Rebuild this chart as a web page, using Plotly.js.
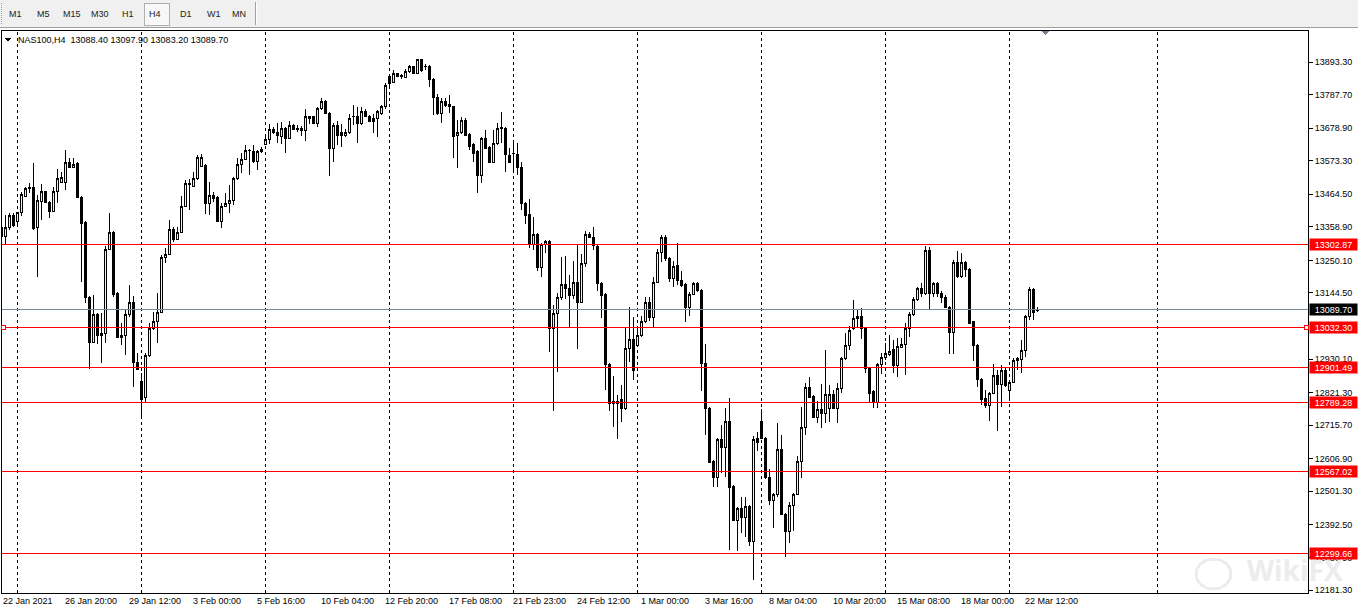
<!DOCTYPE html>
<html>
<head>
<meta charset="utf-8">
<script src="https://cdn.plot.ly/plotly-3.0.1.min.js"></script>
<style>
  html, body { margin:0; padding:0; background:#fff; }
  #wrap { position:relative; width:1358px; height:613px; overflow:hidden; }
  #chart { position:absolute; left:0; top:0; width:1358px; height:613px; }
  #tb { position:absolute; left:0; top:0; width:1358px; height:27px; background:#f0f0f0;
        border-bottom:1px solid #a0a0a0; font-family:'Liberation Sans', Arial, sans-serif;
        font-size:9px; color:#222; z-index:5; }
  #tb span.b { position:absolute; top:9px; line-height:11px; }
  #tb .sel { position:absolute; left:144px; top:3px; width:24px; height:21px;
             border:1px solid #b0b0b0; background:#f8f8f8; }
  #tb .sep { position:absolute; left:255px; top:2px; width:1px; height:23px;
             background:#a0a0a0; border-right:1px solid #fff; }
  #tb .grip { position:absolute; left:1px; top:3px; width:2px; height:21px;
              border-left:1px dotted #a0a0a0; }
  .shapelayer path, .boxlayer path { shape-rendering: crispEdges; }
</style>
</head>
<body>
<div id="wrap">
  <div id="chart"></div>
  <div id="tb">
    <div class="grip"></div>
    <div class="sel"></div>
    <span class="b" style="left:9px">M1</span>
    <span class="b" style="left:37px">M5</span>
    <span class="b" style="left:63px">M15</span>
    <span class="b" style="left:91px">M30</span>
    <span class="b" style="left:122px">H1</span>
    <span class="b" style="left:149px">H4</span>
    <span class="b" style="left:180px">D1</span>
    <span class="b" style="left:207px">W1</span>
    <span class="b" style="left:232px">MN</span>
    <div class="sep"></div>
  </div>
</div>
<script>
// ---------------- data (NAS100, H4) ----------------
const symbol = 'NAS100';
const timeframe = 'H4';

const open = [
13358.2,13329.1,13358.2,13397.2,13377.7,13406.9,13458.8,13484.7,13488.0,13358.2,
13442.6,13471.8,13439.3,13410.1,13471.8,13504.2,13504.2,13569.0,13552.8,13565.8,
13455.5,13374.5,13131.3,12985.4,13076.2,13014.6,13014.6,13286.9,13342.0,13144.3,
13008.1,13008.1,13073.0,13115.1,12920.5,12858.9,12807.1,12943.2,13027.6,13050.3,
13082.7,13261.0,13270.7,13351.8,13319.3,13342.0,13426.3,13494.5,13491.2,13517.1,
13556.0,13559.3,13436.1,13462.0,13455.5,13377.7,13426.3,13436.1,13445.8,13517.1,
13562.5,13578.7,13607.9,13601.5,13572.3,13601.5,13627.4,13643.6,13676.0,13666.3,
13653.3,13679.3,13646.8,13685.8,13676.0,13672.8,13672.8,13715.0,13715.0,13695.5,
13744.1,13766.8,13727.9,13614.4,13689.0,13663.1,13656.6,13663.1,13715.0,13715.0,
13695.5,13734.4,13718.2,13711.7,13711.7,13727.9,13747.4,13847.9,13828.4,13854.4,
13847.9,13844.6,13864.1,13877.1,13857.6,13899.8,13877.1,13880.3,13838.1,13779.8,
13727.9,13766.8,13757.1,13747.4,13656.6,13663.1,13705.2,13659.8,13627.4,13601.5,
13526.9,13646.8,13617.7,13569.0,13630.6,13679.3,13679.3,13591.7,13598.2,13595.0,
13552.8,13436.1,13400.4,13303.1,13335.5,13228.6,13303.1,13312.9,13027.6,13079.4,
13131.3,13173.5,13160.5,13134.6,13179.9,13115.1,13241.5,13335.5,13325.8,13296.6,
13176.7,13141.0,12914.1,12787.6,12794.1,12797.4,12771.4,12965.9,12995.1,12975.7,
13008.1,13053.5,13111.9,13066.5,13179.9,13277.2,13325.8,13257.7,13192.9,13235.0,
13186.4,13173.5,13098.9,13141.0,13176.7,13154.0,12917.3,12771.4,12599.6,12547.7,
12670.9,12641.8,12729.3,12518.5,12408.3,12447.2,12418.0,12453.6,12340.1,12674.1,
12729.3,12674.1,12544.5,12473.1,12489.4,12638.5,12427.7,12372.6,12456.9,12492.6,
12599.6,12709.8,12839.5,12810.3,12742.2,12768.2,12755.2,12771.4,12816.8,12771.4,
12836.2,12933.5,12975.7,13027.6,13063.2,13069.7,13030.8,12901.1,12826.5,12790.9,
12914.1,12936.8,12946.5,12962.7,12910.8,12969.2,12978.9,13030.8,13073.0,13124.8,
13160.5,13144.3,13283.7,13144.3,13176.7,13144.3,13131.3,13098.9,13017.8,13244.8,
13196.2,13244.8,13222.1,13050.3,12975.7,12865.4,12803.8,12781.1,12820.0,12878.4,
12849.2,12894.6,12829.8,12855.7,12927.0,12930.3,12959.5,13069.7,13157.2,13088.4
];
const high = [
13364.7,13397.2,13403.6,13403.6,13406.9,13471.8,13488.0,13500.9,13565.8,13462.0,
13497.7,13474.0,13442.0,13488.0,13546.3,13536.6,13607.9,13582.0,13582.0,13569.0,
13458.0,13377.7,13134.6,13137.8,13079.4,13079.4,13296.6,13403.6,13345.3,13147.5,
13047.0,13089.2,13170.2,13134.6,12949.7,12884.9,12949.7,13047.0,13082.7,13144.3,
13267.5,13290.2,13381.0,13358.2,13358.2,13458.8,13510.7,13513.9,13536.6,13591.7,
13595.0,13562.5,13504.2,13471.8,13458.8,13436.1,13468.5,13494.5,13520.4,13582.0,
13598.2,13624.2,13611.2,13624.2,13607.9,13617.7,13650.1,13692.3,13682.5,13695.5,
13698.8,13682.5,13702.0,13692.3,13689.0,13685.8,13740.9,13718.2,13718.0,13747.4,
13776.6,13770.0,13731.2,13695.5,13702.0,13692.3,13676.0,13724.7,13753.8,13747.4,
13747.4,13740.9,13721.5,13724.7,13737.6,13753.8,13825.2,13854.4,13867.3,13857.6,
13854.4,13870.6,13883.6,13880.3,13903.0,13903.0,13886.8,13883.6,13841.4,13789.5,
13776.6,13776.6,13786.3,13750.0,13705.2,13715.0,13711.7,13663.1,13630.6,13607.9,
13650.1,13672.8,13620.9,13672.8,13695.5,13731.2,13682.5,13614.4,13630.6,13630.6,
13569.0,13439.3,13449.0,13390.7,13338.8,13306.4,13316.1,13316.1,13105.4,13144.3,
13261.0,13264.2,13202.6,13248.0,13299.9,13270.7,13345.3,13342.0,13358.2,13299.9,
13179.9,13144.3,12917.3,12875.1,12813.5,12846.0,13034.0,13098.9,13066.5,13034.0,
13069.7,13131.3,13131.3,13196.2,13286.9,13332.3,13332.3,13261.0,13248.0,13306.4,
13215.6,13176.7,13147.5,13179.9,13179.9,13157.2,12978.9,12774.0,12602.8,12674.1,
12716.3,12771.4,12803.8,12521.7,12450.4,12482.9,12482.9,12456.9,12680.7,12693.6,
12768.2,12677.4,12573.6,12495.8,12722.8,12683.9,12431.0,12466.6,12495.8,12615.8,
12774.6,12852.4,12871.9,12813.5,12794.1,12849.2,12959.5,12846.0,12829.8,12852.4,
12936.8,13014.6,13037.3,13121.6,13089.2,13095.6,13034.0,12904.3,12829.8,12917.3,
12949.7,12982.2,13008.1,12991.9,12998.4,12998.4,13047.0,13082.7,13131.3,13163.7,
13176.7,13296.6,13293.4,13179.9,13179.9,13150.8,13137.8,13101.0,13251.3,13280.4,
13273.9,13248.0,13225.3,13053.5,12978.9,12868.7,12829.8,12823.3,12914.1,12894.6,
12910.8,12904.3,12858.9,12933.5,12936.8,12991.9,13073.0,13163.7,13160.5,13097.9
];
const low = [
13316.1,13303.1,13348.5,13358.2,13364.7,13393.9,13456.0,13468.5,13348.5,13196.2,
13381.0,13436.1,13387.4,13406.9,13436.1,13500.9,13478.2,13549.5,13549.5,13452.3,
13179.9,13111.9,12897.8,12982.2,12978.9,12917.3,12982.2,13283.7,13131.3,12998.4,
12975.7,12943.2,13066.5,12839.5,12894.6,12739.0,12790.9,12936.8,13024.3,12982.2,
13079.4,13241.5,13267.5,13309.6,13316.1,13338.8,13423.1,13413.4,13488.0,13510.7,
13552.8,13400.4,13397.2,13439.3,13374.5,13355.0,13423.1,13403.6,13429.6,13510.7,
13533.3,13575.5,13526.9,13565.8,13543.1,13598.2,13624.2,13627.4,13660.0,13630.6,
13627.4,13598.2,13643.6,13672.8,13666.3,13653.3,13637.1,13692.3,13692.3,13682.5,
13737.6,13724.7,13523.6,13569.0,13624.2,13617.7,13650.1,13660.0,13689.0,13630.6,
13689.0,13715.0,13698.8,13663.1,13650.1,13721.5,13740.9,13812.2,13825.2,13844.6,
13838.1,13841.4,13857.6,13854.4,13854.4,13860.8,13867.3,13812.2,13721.5,13721.5,
13695.5,13747.4,13727.9,13582.0,13549.5,13659.8,13653.3,13607.9,13569.0,13468.5,
13500.9,13611.2,13565.8,13565.8,13624.2,13630.6,13536.6,13565.8,13536.6,13526.9,
13413.4,13368.0,13290.2,13283.7,13215.6,13196.2,13273.9,12953.0,12761.7,12888.1,
13121.6,13124.8,13030.8,13124.8,12962.7,13111.9,13228.6,13322.6,13283.7,13150.8,
13063.2,12829.8,12761.7,12709.8,12670.9,12726.0,12764.9,12920.5,12862.2,12969.2,
13001.6,13047.0,13053.5,13034.0,13176.7,13244.8,13248.0,13179.9,13163.7,13170.2,
13163.7,13050.3,13069.7,13137.8,13147.5,12826.5,12683.9,12593.1,12515.3,12515.3,
12560.7,12547.7,12311.0,12405.0,12307.7,12366.1,12353.1,12323.9,12213.7,12632.0,
12670.9,12541.2,12456.9,12382.3,12482.9,12424.5,12288.3,12333.6,12372.6,12489.4,
12544.5,12683.9,12805.0,12739.0,12722.8,12706.6,12722.8,12726.0,12768.2,12722.8,
12820.0,12927.0,12959.5,13024.3,13034.0,12995.1,12884.9,12787.6,12771.4,12771.4,
12881.6,12927.0,12940.0,12884.9,12871.9,12966.0,12878.4,13001.6,13069.7,13118.3,
13131.3,13137.8,13089.2,13131.3,13131.3,13111.9,13095.6,12946.5,12946.5,13193.0,
13192.9,13196.2,13043.8,12923.8,12839.5,12781.1,12771.4,12729.3,12816.8,12696.9,
12774.6,12839.5,12800.6,12852.4,12894.6,12884.9,12936.8,13056.7,13056.7,13083.2
];
const close = [
13329.1,13358.2,13397.2,13364.7,13406.9,13465.3,13484.7,13486.0,13355.0,13445.8,
13471.8,13439.3,13410.1,13471.8,13517.1,13520.4,13569.0,13552.8,13562.5,13455.5,
13371.2,13131.3,12985.4,13076.2,13008.1,13008.1,13286.9,13342.0,13141.0,13001.6,
13001.6,13073.0,13115.1,12920.5,12897.8,12800.6,12943.2,13027.6,13050.3,13082.7,
13261.0,13270.7,13351.8,13319.3,13342.0,13426.3,13500.9,13500.9,13517.1,13585.2,
13585.2,13436.1,13462.0,13452.3,13377.7,13426.3,13436.1,13445.8,13517.1,13562.5,
13578.7,13607.9,13606.0,13572.3,13601.5,13611.2,13643.6,13676.0,13663.1,13656.6,
13679.3,13646.8,13689.0,13676.0,13677.0,13679.3,13718.2,13711.7,13695.5,13744.1,
13766.8,13727.9,13614.4,13689.0,13656.6,13656.6,13666.3,13708.5,13716.0,13695.5,
13734.4,13718.2,13702.0,13702.0,13731.2,13747.4,13818.7,13825.2,13854.4,13847.9,
13849.0,13864.1,13877.1,13857.6,13899.8,13867.3,13880.3,13838.1,13779.8,13727.9,
13766.8,13753.8,13747.4,13653.3,13663.1,13705.2,13656.6,13620.9,13598.2,13526.9,
13646.8,13614.4,13569.0,13630.6,13679.3,13680.5,13595.0,13569.0,13597.0,13552.8,
13436.1,13397.2,13303.1,13335.5,13228.6,13303.1,13312.9,13027.6,13079.4,13131.3,
13173.5,13160.5,13134.6,13179.9,13115.1,13241.5,13335.5,13325.8,13299.9,13176.7,
13134.6,12914.1,12787.6,12794.1,12787.6,12771.4,12965.9,12995.1,12894.6,13008.1,
13053.5,13111.9,13066.5,13179.9,13277.2,13325.8,13257.7,13192.9,13231.8,13186.4,
13170.2,13098.9,13141.0,13176.7,13154.0,12917.3,12771.4,12596.3,12547.7,12670.9,
12641.8,12729.3,12515.3,12408.3,12447.2,12418.0,12453.6,12340.1,12670.9,12658.0,
12674.1,12544.5,12473.1,12489.4,12638.5,12427.7,12372.6,12456.9,12492.6,12599.6,
12709.8,12839.5,12807.1,12742.2,12768.2,12755.2,12816.8,12816.8,12771.4,12836.2,
12933.5,12975.7,13024.3,13063.2,13069.7,13030.8,12901.1,12820.0,12790.9,12914.1,
12936.8,12948.0,12956.2,12910.8,12972.4,12978.9,13030.8,13073.0,13124.8,13160.5,
13144.3,13283.7,13144.3,13176.7,13144.3,13131.3,13098.9,13017.8,13244.8,13196.2,
13244.8,13222.1,13047.0,12975.7,12865.4,12797.4,12781.1,12820.0,12878.4,12849.2,
12894.6,12846.0,12855.7,12927.0,12933.5,12959.5,13069.7,13157.2,13080.0,13089.7
];

// time axis labels (label text and the bar they belong to)
const xTickLabels = ['22 Jan 2021','26 Jan 20:00','29 Jan 12:00','3 Feb 00:00','5 Feb 16:00',
  '10 Feb 04:00','12 Feb 20:00','17 Feb 08:00','21 Feb 23:00','24 Feb 12:00','1 Mar 00:00',
  '3 Mar 16:00','8 Mar 04:00','10 Mar 20:00','15 Mar 08:00','18 Mar 00:00','22 Mar 12:00'];
const xTickBars = [0,16,32,48,64,80,96,112,128,144,160,176,192,208,224,240,256];

// price scale labels
const yTickVals = [13893.30,13787.70,13678.90,13573.30,13464.50,13358.90,13250.10,13144.50,
  12930.10,12821.30,12715.70,12606.90,12501.30,12392.50,12286.90,12181.30];

// horizontal levels and bid
const levels = [13302.87, 13032.30, 12901.49, 12789.28, 12567.02, 12299.66];
const bid = 13089.70;

// ---------------- figure ----------------
const barIdx = open.map((_, i) => i);
const last = open.length - 1;
const xRange = [0.125, 326.625];
const gridBars = [4, 35, 66, 97, 128, 159, 190, 221, 252, 289];

const shapes = [];
gridBars.forEach(g => shapes.push({
  type:'line', xref:'x', yref:'paper', x0:g, x1:g, y0:0, y1:1, layer:'below',
  line:{color:'#000', width:1, dash:'3px,3px'}
}));
shapes.push({type:'line', xref:'paper', yref:'y', x0:0, x1:1, y0:bid, y1:bid,
  line:{color:'#778899', width:1}});
levels.forEach(v => shapes.push({type:'line', xref:'paper', yref:'y', x0:0, x1:1, y0:v, y1:v,
  line:{color:'#ff0000', width:1}}));
// selection squares on the 13032.30 level
[[0, -1, 3], [1, -4, 0]].forEach(([a, p0, p1]) => shapes.push({
  type:'rect', xref:'paper', xsizemode:'pixel', xanchor:a, x0:p0, x1:p1,
  yref:'y', ysizemode:'pixel', yanchor:levels[1], y0:-2, y1:2,
  line:{color:'#ff0000', width:1}, fillcolor:'#ffffff'
}));
// header triangle
shapes.push({type:'path', xref:'paper', xsizemode:'pixel', xanchor:0,
  yref:'paper', ysizemode:'pixel', yanchor:1,
  path:'M3,-7 L9,-7 L6,-11 Z', fillcolor:'#000', line:{color:'#000', width:0}});
// chart shift marker
shapes.push({type:'path', xref:'paper', xsizemode:'pixel', xanchor:0,
  yref:'paper', ysizemode:'pixel', yanchor:1,
  path:'M1039,0 L1047,0 L1043,-4 Z', fillcolor:'#708090', line:{color:'#708090', width:0}});
// watermark logo
shapes.push({type:'circle', xref:'paper', xsizemode:'pixel', xanchor:0,
  yref:'paper', ysizemode:'pixel', yanchor:0, x0:1194, x1:1229, y0:4, y1:34,
  line:{color:'#ececec', width:3}, layer:'below'});

const annotations = [];
xTickLabels.forEach((t, i) => {
  const clamped = xTickBars[i] < xRange[0];
  annotations.push({
    text:t, x:clamped ? xRange[0] : xTickBars[i], xref:'x', y:0, yref:'paper',
    xanchor:'left', yanchor:'top', xshift:clamped ? 0 : -2, yshift:-2,
    showarrow:false, borderpad:0, font:{size:9, color:'#000'}
  });
});
levels.forEach(v => annotations.push({
  text:v.toFixed(2), xref:'paper', x:1, xanchor:'left', xshift:1, yref:'y', y:v, yanchor:'middle',
  showarrow:false, bgcolor:'#ff0000', borderpad:0, width:47, height:11, align:'center',
  font:{size:9, color:'#ffffff'}
}));
annotations.push({
  text:bid.toFixed(2), xref:'paper', x:1, xanchor:'left', xshift:1, yref:'y', y:bid, yanchor:'middle',
  showarrow:false, bgcolor:'#000000', borderpad:0, width:47, height:11, align:'center',
  font:{size:9, color:'#ffffff'}
});
annotations.push({
  text: symbol + ',' + timeframe + '\u00a0\u00a0' + open[last].toFixed(2) + ' ' + high[last].toFixed(2) +
        ' ' + low[last].toFixed(2) + ' ' + close[last].toFixed(2),
  xref:'paper', x:15/1306, xanchor:'left', yref:'paper', y:1, yanchor:'top', yshift:-3,
  showarrow:false, borderpad:0, font:{size:9, color:'#000'}
});
annotations.push({
  text:'<b>WikiFX</b>', xref:'paper', x:1293/1306, xanchor:'center', yref:'paper', y:0, yanchor:'bottom',
  yshift:2, showarrow:false, font:{family:'Open Sans, sans-serif', size:28, color:'#ececec'}
});

const trace = {
  type:'candlestick', x:barIdx, open:open, high:high, low:low, close:close,
  increasing:{line:{color:'#000000', width:1}, fillcolor:'#f0f0dc'},
  decreasing:{line:{color:'#000000', width:1}, fillcolor:'#000000'},
  whiskerwidth:0, hoverinfo:'skip'
};

const layout = {
  width:1358, height:613,
  margin:{l:2, r:50, t:31, b:20, pad:0},
  paper_bgcolor:'#ffffff', plot_bgcolor:'#ffffff',
  font:{family:'Liberation Sans, Arial, sans-serif', size:9, color:'#000'},
  showlegend:false,
  xaxis:{range:xRange, showgrid:false, zeroline:false, showticklabels:false, ticks:'',
    showline:true, mirror:true, linecolor:'#000', linewidth:1, rangeslider:{visible:false}, fixedrange:true},
  yaxis:{range:[12171.6, 13993.8], side:'right', tickvals:yTickVals, tickformat:'.2f',
    ticks:'outside', ticklen:4, tickcolor:'#000', showgrid:false, zeroline:false,
    showline:true, mirror:true, linecolor:'#000', linewidth:1, fixedrange:true,
    tickfont:{size:9, color:'#000'}},
  shapes:shapes, annotations:annotations
};

Plotly.newPlot('chart', [trace], layout, {displayModeBar:false, staticPlot:true});
</script>
</body>
</html>
